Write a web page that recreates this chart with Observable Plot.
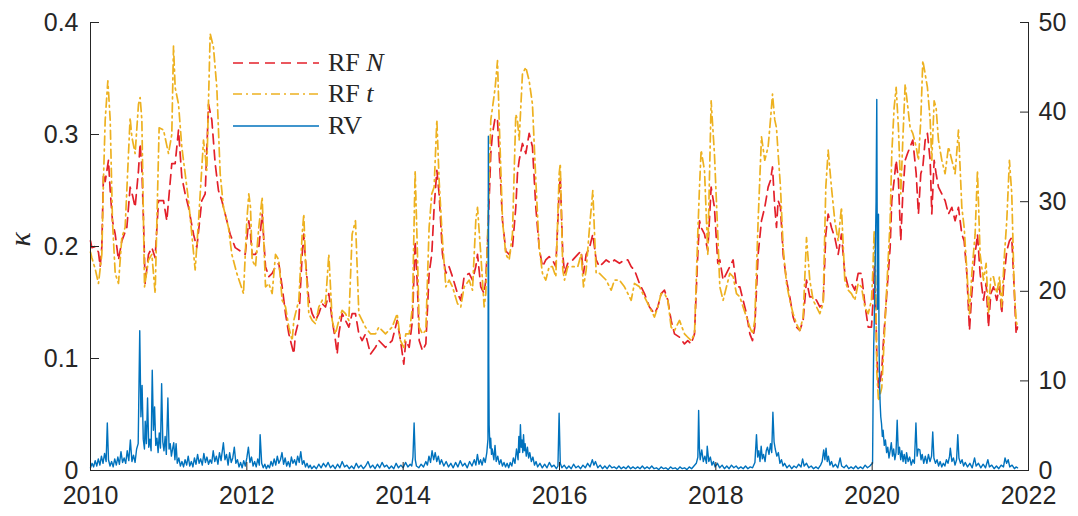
<!DOCTYPE html>
<html>
<head>
<meta charset="utf-8">
<script src="https://cdn.jsdelivr.net/npm/d3@7"></script>
<script src="https://cdn.jsdelivr.net/npm/@observablehq/plot@0.6"></script>
<style>
  body { margin: 0; background: #fff; }
  #chart { position: relative; width: 1078px; height: 516px; }
  #legend { position: absolute; left: 233px; top: 47px; font-family: "Liberation Serif", "Times New Roman", serif; font-size: 26px; color: #262626; }
  #legend .row { display: flex; align-items: center; height: 31.5px; }
  #legend svg { width: 86px; height: 10px; margin-right: 9px; }
</style>
</head>
<body>
<div id="chart"></div>
<script>
// Axis ranges and tick labels
const xDomain = [2010, 2022];
const xTicks = [2010, 2012, 2014, 2016, 2018, 2020, 2022];
const kappaTicks = [0, 0.1, 0.2, 0.3, 0.4];
const rvTicks = [0, 10, 20, 30, 40, 50];
const kappaMax = 0.4;
const rvMax = 50;

// Series labels
const seriesNames = ["RF N", "RF t", "RV"];

// RF with Normal innovations: [decimal year, kappa]
const rfN = [
  [2010.000,0.205],[2010.017,0.199],[2010.060,0.200],[2010.102,0.195],[2010.124,0.182],[2010.145,0.200],[2010.166,0.265],[2010.188,0.258],
  [2010.230,0.277],[2010.252,0.250],[2010.281,0.223],[2010.316,0.211],[2010.358,0.188],[2010.401,0.205],[2010.465,0.217],[2010.507,0.253],
  [2010.540,0.245],[2010.571,0.235],[2010.614,0.268],[2010.635,0.292],[2010.657,0.270],[2010.678,0.223],[2010.699,0.167],[2010.742,0.193],
  [2010.785,0.199],[2010.827,0.190],[2010.870,0.241],[2010.934,0.241],[2010.976,0.223],[2011.040,0.274],[2011.083,0.274],[2011.126,0.304],
  [2011.168,0.262],[2011.211,0.247],[2011.254,0.235],[2011.318,0.211],[2011.360,0.199],[2011.424,0.241],[2011.467,0.247],[2011.510,0.327],
  [2011.552,0.313],[2011.595,0.274],[2011.637,0.250],[2011.680,0.241],[2011.723,0.229],[2011.787,0.211],[2011.851,0.199],[2011.915,0.196],
  [2011.979,0.193],[2012.025,0.223],[2012.047,0.211],[2012.068,0.193],[2012.111,0.193],[2012.153,0.199],[2012.196,0.229],[2012.239,0.182],
  [2012.281,0.173],[2012.324,0.176],[2012.367,0.182],[2012.409,0.185],[2012.452,0.164],[2012.495,0.140],[2012.537,0.122],[2012.580,0.110],
  [2012.601,0.104],[2012.622,0.122],[2012.665,0.134],[2012.708,0.193],[2012.729,0.211],[2012.750,0.188],[2012.793,0.152],[2012.836,0.140],
  [2012.878,0.134],[2012.921,0.140],[2012.964,0.149],[2013.006,0.146],[2013.049,0.158],[2013.092,0.134],[2013.134,0.116],[2013.156,0.104],
  [2013.177,0.122],[2013.219,0.140],[2013.262,0.134],[2013.305,0.128],[2013.347,0.140],[2013.390,0.140],[2013.433,0.122],[2013.475,0.116],
  [2013.518,0.122],[2013.582,0.104],[2013.646,0.110],[2013.689,0.116],[2013.774,0.110],[2013.859,0.116],[2013.923,0.134],[2013.966,0.116],
  [2014.008,0.095],[2014.034,0.116],[2014.077,0.110],[2014.119,0.134],[2014.153,0.205],[2014.183,0.164],[2014.205,0.116],[2014.247,0.107],
  [2014.290,0.113],[2014.332,0.176],[2014.366,0.193],[2014.396,0.235],[2014.431,0.268],[2014.460,0.247],[2014.503,0.193],[2014.546,0.176],
  [2014.588,0.182],[2014.631,0.173],[2014.695,0.158],[2014.737,0.152],[2014.780,0.173],[2014.844,0.176],[2014.887,0.170],[2014.929,0.182],
  [2014.951,0.193],[2014.993,0.164],[2015.036,0.158],[2015.057,0.170],[2015.091,0.223],[2015.121,0.283],[2015.143,0.301],[2015.177,0.315],
  [2015.207,0.313],[2015.228,0.283],[2015.271,0.223],[2015.313,0.196],[2015.356,0.193],[2015.398,0.199],[2015.441,0.235],[2015.462,0.265],
  [2015.484,0.277],[2015.526,0.292],[2015.569,0.283],[2015.612,0.301],[2015.654,0.289],[2015.697,0.235],[2015.740,0.199],[2015.782,0.182],
  [2015.825,0.188],[2015.868,0.191],[2015.910,0.188],[2015.953,0.182],[2015.996,0.250],[2016.010,0.262],[2016.042,0.193],[2016.064,0.176],
  [2016.106,0.185],[2016.170,0.188],[2016.234,0.193],[2016.277,0.196],[2016.307,0.176],[2016.341,0.193],[2016.384,0.199],[2016.426,0.211],
  [2016.469,0.188],[2016.511,0.182],[2016.554,0.185],[2016.597,0.188],[2016.661,0.185],[2016.703,0.188],[2016.767,0.185],[2016.831,0.188],
  [2016.874,0.188],[2016.917,0.182],[2016.959,0.179],[2017.023,0.167],[2017.087,0.158],[2017.151,0.146],[2017.215,0.140],[2017.258,0.146],
  [2017.300,0.158],[2017.343,0.161],[2017.386,0.152],[2017.428,0.134],[2017.471,0.122],[2017.535,0.119],[2017.599,0.113],[2017.641,0.116],
  [2017.684,0.113],[2017.727,0.122],[2017.769,0.193],[2017.791,0.223],[2017.812,0.217],[2017.855,0.211],[2017.897,0.196],[2017.940,0.253],
  [2017.982,0.235],[2018.025,0.185],[2018.051,0.188],[2018.093,0.170],[2018.136,0.176],[2018.179,0.182],[2018.221,0.188],[2018.264,0.164],
  [2018.307,0.164],[2018.349,0.152],[2018.392,0.140],[2018.435,0.122],[2018.469,0.116],[2018.498,0.128],[2018.541,0.193],[2018.584,0.223],
  [2018.626,0.235],[2018.669,0.253],[2018.699,0.259],[2018.725,0.271],[2018.754,0.235],[2018.776,0.217],[2018.797,0.241],[2018.827,0.235],
  [2018.861,0.193],[2018.904,0.170],[2018.946,0.155],[2018.989,0.137],[2019.032,0.128],[2019.074,0.125],[2019.117,0.134],[2019.160,0.170],
  [2019.202,0.155],[2019.245,0.155],[2019.288,0.152],[2019.330,0.146],[2019.373,0.149],[2019.407,0.211],[2019.437,0.229],[2019.479,0.217],
  [2019.522,0.208],[2019.565,0.193],[2019.607,0.211],[2019.650,0.176],[2019.693,0.164],[2019.735,0.167],[2019.778,0.161],[2019.821,0.176],
  [2019.863,0.176],[2019.906,0.149],[2019.949,0.128],[2019.991,0.128],[2020.010,0.150],[2020.025,0.182],[2020.045,0.150],[2020.059,0.104],
  [2020.081,0.074],[2020.102,0.080],[2020.123,0.089],[2020.145,0.116],[2020.187,0.158],[2020.230,0.199],[2020.251,0.241],[2020.281,0.259],
  [2020.307,0.277],[2020.336,0.259],[2020.366,0.205],[2020.392,0.247],[2020.422,0.277],[2020.452,0.283],[2020.486,0.289],[2020.520,0.295],
  [2020.563,0.265],[2020.592,0.229],[2020.622,0.265],[2020.648,0.271],[2020.678,0.295],[2020.707,0.301],[2020.742,0.277],[2020.763,0.229],
  [2020.793,0.277],[2020.818,0.265],[2020.848,0.253],[2020.891,0.247],[2020.933,0.241],[2020.976,0.229],[2021.019,0.235],[2021.061,0.223],
  [2021.104,0.235],[2021.147,0.211],[2021.177,0.205],[2021.211,0.176],[2021.245,0.125],[2021.275,0.158],[2021.317,0.193],[2021.347,0.211],
  [2021.381,0.176],[2021.424,0.152],[2021.458,0.167],[2021.488,0.128],[2021.518,0.158],[2021.552,0.164],[2021.594,0.152],[2021.629,0.164],
  [2021.658,0.140],[2021.688,0.173],[2021.722,0.196],[2021.756,0.205],[2021.786,0.208],[2021.816,0.164],[2021.842,0.122],[2021.859,0.128]
];

// RF with Student-t innovations: [decimal year, kappa]
const rfT = [
  [2010.000,0.195],[2010.017,0.190],[2010.060,0.180],[2010.102,0.167],[2010.145,0.193],[2010.166,0.260],[2010.188,0.313],[2010.222,0.348],
  [2010.252,0.313],[2010.281,0.223],[2010.316,0.176],[2010.358,0.167],[2010.401,0.208],[2010.443,0.217],[2010.507,0.315],[2010.529,0.298],
  [2010.571,0.283],[2010.614,0.327],[2010.635,0.333],[2010.657,0.313],[2010.691,0.164],[2010.742,0.188],[2010.785,0.193],[2010.827,0.158],
  [2010.878,0.306],[2010.934,0.304],[2010.998,0.283],[2011.040,0.300],[2011.062,0.379],[2011.083,0.342],[2011.126,0.327],[2011.168,0.289],
  [2011.211,0.265],[2011.254,0.241],[2011.296,0.211],[2011.339,0.179],[2011.382,0.223],[2011.446,0.295],[2011.488,0.268],[2011.531,0.390],
  [2011.573,0.378],[2011.616,0.342],[2011.659,0.265],[2011.701,0.235],[2011.765,0.217],[2011.808,0.193],[2011.872,0.176],[2011.957,0.158],
  [2012.000,0.223],[2012.025,0.247],[2012.047,0.235],[2012.068,0.188],[2012.111,0.182],[2012.153,0.217],[2012.196,0.244],[2012.239,0.164],
  [2012.281,0.167],[2012.324,0.158],[2012.367,0.193],[2012.409,0.188],[2012.452,0.152],[2012.495,0.146],[2012.537,0.128],[2012.580,0.116],
  [2012.601,0.134],[2012.622,0.140],[2012.665,0.152],[2012.708,0.211],[2012.729,0.229],[2012.750,0.188],[2012.793,0.140],[2012.836,0.134],
  [2012.878,0.131],[2012.921,0.146],[2012.964,0.152],[2013.006,0.149],[2013.049,0.193],[2013.092,0.134],[2013.134,0.122],[2013.177,0.134],
  [2013.219,0.143],[2013.262,0.140],[2013.305,0.134],[2013.347,0.211],[2013.390,0.223],[2013.433,0.140],[2013.475,0.134],[2013.518,0.128],
  [2013.582,0.122],[2013.646,0.122],[2013.689,0.128],[2013.774,0.122],[2013.859,0.128],[2013.923,0.140],[2013.966,0.116],[2014.008,0.110],
  [2014.034,0.122],[2014.077,0.122],[2014.119,0.146],[2014.153,0.268],[2014.183,0.193],[2014.205,0.128],[2014.247,0.122],[2014.290,0.125],
  [2014.332,0.217],[2014.366,0.247],[2014.396,0.253],[2014.431,0.313],[2014.460,0.259],[2014.503,0.205],[2014.546,0.164],[2014.588,0.170],
  [2014.631,0.164],[2014.695,0.149],[2014.737,0.146],[2014.780,0.164],[2014.844,0.170],[2014.887,0.161],[2014.929,0.223],[2014.951,0.235],
  [2014.993,0.193],[2015.036,0.146],[2015.057,0.158],[2015.091,0.235],[2015.121,0.313],[2015.143,0.324],[2015.177,0.342],[2015.207,0.366],
  [2015.228,0.313],[2015.271,0.223],[2015.313,0.193],[2015.356,0.188],[2015.398,0.211],[2015.441,0.318],[2015.462,0.313],[2015.484,0.295],
  [2015.526,0.354],[2015.569,0.360],[2015.612,0.348],[2015.654,0.327],[2015.697,0.259],[2015.740,0.199],[2015.782,0.176],[2015.825,0.170],
  [2015.868,0.182],[2015.910,0.182],[2015.953,0.173],[2015.996,0.265],[2016.010,0.274],[2016.042,0.179],[2016.064,0.170],[2016.106,0.182],
  [2016.170,0.182],[2016.234,0.182],[2016.277,0.193],[2016.307,0.164],[2016.341,0.179],[2016.384,0.217],[2016.426,0.250],[2016.469,0.176],
  [2016.511,0.176],[2016.554,0.173],[2016.597,0.170],[2016.661,0.161],[2016.703,0.170],[2016.767,0.170],[2016.831,0.164],[2016.874,0.158],
  [2016.917,0.152],[2016.959,0.167],[2017.023,0.164],[2017.087,0.155],[2017.151,0.146],[2017.215,0.137],[2017.258,0.146],[2017.300,0.158],
  [2017.343,0.158],[2017.386,0.152],[2017.428,0.128],[2017.471,0.125],[2017.535,0.134],[2017.599,0.122],[2017.641,0.119],[2017.684,0.116],
  [2017.727,0.122],[2017.769,0.211],[2017.791,0.253],[2017.812,0.286],[2017.855,0.268],[2017.897,0.193],[2017.940,0.330],[2017.982,0.283],
  [2018.025,0.211],[2018.051,0.164],[2018.093,0.152],[2018.136,0.164],[2018.179,0.176],[2018.221,0.173],[2018.264,0.158],[2018.307,0.155],
  [2018.349,0.146],[2018.392,0.137],[2018.435,0.128],[2018.469,0.122],[2018.498,0.134],[2018.541,0.223],[2018.584,0.298],[2018.626,0.277],
  [2018.669,0.289],[2018.699,0.313],[2018.725,0.336],[2018.754,0.313],[2018.776,0.306],[2018.797,0.283],[2018.827,0.253],[2018.861,0.199],
  [2018.904,0.167],[2018.946,0.152],[2018.989,0.140],[2019.032,0.131],[2019.074,0.125],[2019.117,0.137],[2019.160,0.208],[2019.202,0.170],
  [2019.245,0.152],[2019.288,0.146],[2019.330,0.140],[2019.373,0.149],[2019.407,0.253],[2019.437,0.286],[2019.479,0.253],[2019.522,0.223],
  [2019.565,0.205],[2019.607,0.235],[2019.650,0.170],[2019.693,0.161],[2019.735,0.158],[2019.778,0.152],[2019.821,0.167],[2019.863,0.164],
  [2019.906,0.146],[2019.949,0.140],[2019.991,0.152],[2020.010,0.180],[2020.025,0.214],[2020.045,0.170],[2020.059,0.089],[2020.081,0.062],
  [2020.102,0.068],[2020.123,0.074],[2020.145,0.104],[2020.187,0.164],[2020.230,0.223],[2020.251,0.283],[2020.281,0.324],[2020.307,0.342],
  [2020.336,0.306],[2020.366,0.247],[2020.392,0.295],[2020.422,0.345],[2020.452,0.327],[2020.486,0.306],[2020.520,0.301],[2020.563,0.289],
  [2020.592,0.277],[2020.622,0.313],[2020.648,0.366],[2020.678,0.354],[2020.707,0.342],[2020.742,0.313],[2020.763,0.277],[2020.793,0.330],
  [2020.818,0.324],[2020.848,0.295],[2020.891,0.277],[2020.933,0.265],[2020.976,0.289],[2021.019,0.277],[2021.061,0.265],[2021.104,0.304],
  [2021.147,0.235],[2021.177,0.217],[2021.211,0.179],[2021.245,0.140],[2021.275,0.176],[2021.317,0.211],[2021.347,0.268],[2021.381,0.193],
  [2021.424,0.170],[2021.458,0.185],[2021.488,0.140],[2021.518,0.173],[2021.552,0.173],[2021.594,0.158],[2021.629,0.173],[2021.658,0.146],
  [2021.688,0.188],[2021.722,0.223],[2021.756,0.277],[2021.786,0.247],[2021.816,0.164],[2021.842,0.134],[2021.859,0.128]
];

// Realised volatility (right axis): [decimal year, RV]
const rv = [
  [2010.00,0.3],[2010.02,0.8],[2010.04,0.4],[2010.06,1.1],[2010.08,0.5],[2010.10,1.3],[2010.12,0.6],[2010.14,1.6],[2010.16,0.8],[2010.18,1.9],
  [2010.20,1.0],[2010.215,5.3],[2010.23,1.2],[2010.25,0.5],[2010.27,1.0],[2010.29,0.4],[2010.31,1.3],[2010.33,0.6],[2010.35,1.5],[2010.37,0.7],
  [2010.39,2.1],[2010.41,0.9],[2010.43,1.4],[2010.45,0.8],[2010.47,2.2],[2010.49,1.1],[2010.51,3.4],[2010.53,1.0],[2010.55,1.7],[2010.57,0.9],
  [2010.59,2.4],[2010.61,3.0],[2010.63,15.6],[2010.645,6.0],[2010.66,9.5],[2010.675,3.5],[2010.69,2.4],[2010.70,5.5],[2010.715,3.0],[2010.73,8.1],
  [2010.745,2.6],[2010.76,3.5],[2010.775,2.2],[2010.79,11.2],[2010.805,4.5],[2010.82,7.1],[2010.835,2.8],[2010.85,3.6],[2010.865,2.0],[2010.88,4.2],
  [2010.895,2.5],[2010.91,9.7],[2010.925,3.2],[2010.94,2.2],[2010.955,3.8],[2010.97,1.8],[2010.99,8.1],[2011.005,2.4],[2011.02,3.0],[2011.035,1.6],
  [2011.05,2.4],[2011.065,3.1],[2011.08,1.2],[2011.095,3.0],[2011.11,0.8],[2011.13,1.4],[2011.15,0.5],[2011.17,1.0],[2011.19,0.4],[2011.21,1.2],
  [2011.23,0.6],[2011.25,1.6],[2011.27,0.5],[2011.29,1.0],[2011.31,0.4],[2011.33,1.4],[2011.35,0.7],[2011.37,1.8],[2011.39,0.8],[2011.41,1.3],
  [2011.43,0.6],[2011.45,1.9],[2011.47,0.9],[2011.49,1.5],[2011.51,0.7],[2011.53,1.2],[2011.55,0.8],[2011.57,2.2],[2011.59,1.0],[2011.61,1.6],
  [2011.63,0.7],[2011.65,2.0],[2011.67,1.1],[2011.70,3.1],[2011.72,1.2],[2011.74,1.8],[2011.76,0.6],[2011.78,2.0],[2011.80,0.9],[2011.82,1.4],
  [2011.84,2.6],[2011.86,0.8],[2011.88,1.2],[2011.90,0.4],[2011.92,0.9],[2011.94,0.3],[2011.96,1.1],[2011.98,0.5],[2012.00,1.4],[2012.02,2.6],
  [2012.04,0.9],[2012.06,1.5],[2012.08,0.5],[2012.10,1.0],[2012.12,0.4],[2012.14,1.3],[2012.16,0.6],[2012.17,4.0],[2012.19,0.8],[2012.21,0.3],
  [2012.23,0.7],[2012.25,0.2],[2012.27,0.6],[2012.29,0.3],[2012.31,1.0],[2012.33,0.5],[2012.35,1.3],[2012.37,0.6],[2012.39,1.6],[2012.41,0.8],
  [2012.43,1.2],[2012.45,2.0],[2012.47,0.7],[2012.49,1.4],[2012.51,0.5],[2012.53,1.0],[2012.55,0.4],[2012.57,1.5],[2012.59,0.8],[2012.61,1.2],
  [2012.63,0.6],[2012.65,1.6],[2012.67,0.9],[2012.69,2.1],[2012.71,0.7],[2012.73,1.1],[2012.75,0.4],[2012.77,0.8],[2012.79,0.3],[2012.81,0.6],
  [2012.83,0.2],[2012.86,0.5],[2012.89,0.2],[2012.92,0.7],[2012.95,0.3],[2012.98,0.8],[2013.01,0.4],[2013.04,0.9],[2013.07,0.3],[2013.10,0.6],
  [2013.13,0.2],[2013.16,0.7],[2013.19,0.3],[2013.22,1.0],[2013.25,0.4],[2013.28,0.6],[2013.31,0.2],[2013.34,0.5],[2013.37,0.2],[2013.40,0.8],
  [2013.43,0.3],[2013.46,0.6],[2013.49,0.2],[2013.52,0.5],[2013.55,1.0],[2013.58,0.3],[2013.61,0.6],[2013.64,0.2],[2013.67,0.7],[2013.70,0.3],
  [2013.73,0.9],[2013.76,0.4],[2013.79,0.6],[2013.82,0.2],[2013.85,0.5],[2013.88,0.2],[2013.91,0.8],[2013.94,0.3],[2013.97,0.6],[2014.00,0.3],
  [2014.03,0.9],[2014.06,0.4],[2014.09,0.7],[2014.11,0.5],[2014.125,1.5],[2014.14,5.3],[2014.155,1.2],[2014.17,0.5],[2014.20,0.3],[2014.23,0.7],
  [2014.26,0.4],[2014.29,1.0],[2014.31,0.6],[2014.33,1.6],[2014.35,0.9],[2014.37,2.2],[2014.39,1.2],[2014.41,2.0],[2014.43,1.0],[2014.45,1.6],
  [2014.47,0.7],[2014.49,1.2],[2014.52,0.5],[2014.55,1.0],[2014.58,0.4],[2014.61,0.8],[2014.64,0.3],[2014.67,0.9],[2014.70,0.4],[2014.73,1.1],
  [2014.76,0.5],[2014.79,0.8],[2014.82,0.3],[2014.85,1.0],[2014.88,0.5],[2014.91,1.2],[2014.93,0.6],[2014.95,1.8],[2014.97,0.7],[2014.99,1.2],
  [2015.01,0.6],[2015.03,1.4],[2015.05,0.9],[2015.07,2.0],[2015.085,3.5],[2015.09,37.3],[2015.095,12.0],[2015.10,5.1],[2015.11,2.5],[2015.12,3.6],
  [2015.13,1.8],[2015.14,2.4],[2015.16,1.2],[2015.175,2.8],[2015.19,1.0],[2015.21,1.6],[2015.23,0.7],[2015.25,1.2],[2015.27,0.5],[2015.29,0.9],
  [2015.31,0.4],[2015.33,0.8],[2015.35,0.3],[2015.37,0.9],[2015.39,0.5],[2015.41,1.4],[2015.43,0.8],[2015.45,2.4],[2015.47,1.2],[2015.48,3.8],
  [2015.49,2.0],[2015.50,5.1],[2015.51,2.6],[2015.52,3.4],[2015.53,2.0],[2015.54,4.0],[2015.55,2.2],[2015.56,3.0],[2015.575,1.6],[2015.59,2.6],
  [2015.605,1.4],[2015.62,2.0],[2015.64,1.0],[2015.66,1.5],[2015.68,0.6],[2015.70,1.0],[2015.72,0.4],[2015.75,0.8],[2015.78,0.3],[2015.81,0.7],
  [2015.84,0.3],[2015.87,0.9],[2015.90,0.4],[2015.93,0.6],[2015.96,0.2],[2015.98,0.5],[2015.995,6.4],[2016.01,0.8],[2016.03,0.3],[2016.06,0.6],
  [2016.09,0.2],[2016.12,0.5],[2016.15,0.2],[2016.18,0.7],[2016.21,0.3],[2016.24,0.5],[2016.27,0.2],[2016.30,0.6],[2016.33,0.3],[2016.36,0.8],
  [2016.39,0.4],[2016.42,1.2],[2016.44,0.6],[2016.46,1.0],[2016.49,0.3],[2016.52,0.6],[2016.55,0.2],[2016.58,0.5],[2016.61,0.2],[2016.64,0.6],
  [2016.67,0.3],[2016.70,0.4],[2016.73,0.2],[2016.76,0.5],[2016.79,0.2],[2016.82,0.4],[2016.85,0.2],[2016.88,0.5],[2016.91,0.2],[2016.94,0.4],
  [2016.97,0.2],[2017.00,0.4],[2017.03,0.2],[2017.06,0.5],[2017.09,0.2],[2017.12,0.4],[2017.15,0.2],[2017.18,0.5],[2017.21,0.2],[2017.24,0.3],
  [2017.27,0.1],[2017.30,0.4],[2017.33,0.2],[2017.36,0.3],[2017.39,0.1],[2017.42,0.4],[2017.45,0.2],[2017.48,0.3],[2017.51,0.1],[2017.54,0.4],
  [2017.57,0.2],[2017.60,0.3],[2017.63,0.1],[2017.66,0.4],[2017.69,0.2],[2017.72,0.5],[2017.75,0.8],[2017.77,1.5],[2017.78,6.7],[2017.79,2.5],
  [2017.80,1.2],[2017.82,2.3],[2017.84,1.0],[2017.86,1.6],[2017.88,0.8],[2017.89,2.7],[2017.91,1.0],[2017.93,1.5],[2017.95,0.6],[2017.97,1.0],
  [2017.99,0.4],[2018.02,0.8],[2018.05,0.3],[2018.08,0.6],[2018.11,0.2],[2018.14,0.5],[2018.17,0.2],[2018.20,0.6],[2018.23,0.3],[2018.26,0.5],
  [2018.29,0.2],[2018.32,0.4],[2018.35,0.2],[2018.38,0.5],[2018.41,0.2],[2018.44,0.4],[2018.47,0.3],[2018.50,0.9],[2018.52,4.0],[2018.535,1.5],
  [2018.55,2.2],[2018.565,1.0],[2018.58,2.7],[2018.595,1.3],[2018.61,1.8],[2018.63,1.0],[2018.645,2.2],[2018.66,2.6],[2018.68,1.8],[2018.70,3.0],
  [2018.715,2.0],[2018.73,6.5],[2018.745,3.2],[2018.76,2.4],[2018.78,1.6],[2018.80,2.0],[2018.82,0.8],[2018.84,1.2],[2018.86,0.5],[2018.88,0.8],
  [2018.91,0.3],[2018.94,0.6],[2018.97,0.2],[2019.00,0.5],[2019.03,0.3],[2019.06,0.7],[2019.09,0.4],[2019.11,1.3],[2019.13,0.5],[2019.16,0.8],
  [2019.19,0.3],[2019.22,0.5],[2019.25,0.2],[2019.28,0.4],[2019.31,0.2],[2019.34,0.6],[2019.36,1.0],[2019.38,2.3],[2019.395,1.2],[2019.41,2.5],
  [2019.425,1.0],[2019.44,1.6],[2019.46,0.6],[2019.48,1.0],[2019.50,0.4],[2019.53,0.7],[2019.56,0.3],[2019.59,1.4],[2019.61,0.5],[2019.64,0.3],
  [2019.67,0.6],[2019.70,0.2],[2019.73,0.4],[2019.76,0.2],[2019.79,0.5],[2019.82,0.2],[2019.85,0.4],[2019.88,0.2],[2019.91,0.6],[2019.94,0.3],
  [2019.97,0.5],[2019.99,0.7],[2020.005,0.8],[2020.012,8.0],[2020.02,14.0],[2020.03,18.0],[2020.04,24.0],[2020.05,30.0],[2020.059,41.4],[2020.068,18.0],
  [2020.075,22.0],[2020.081,28.6],[2020.088,14.0],[2020.095,9.5],[2020.102,7.5],[2020.11,6.0],[2020.12,5.2],[2020.13,3.8],[2020.14,4.5],[2020.155,2.8],
  [2020.17,3.4],[2020.185,2.0],[2020.20,2.6],[2020.215,1.4],[2020.23,2.2],[2020.245,3.1],[2020.26,1.6],[2020.275,2.4],[2020.29,1.2],[2020.305,2.0],
  [2020.32,5.6],[2020.335,1.8],[2020.35,2.6],[2020.365,1.2],[2020.38,2.2],[2020.395,1.0],[2020.41,1.8],[2020.43,0.8],[2020.44,2.0],[2020.46,1.0],
  [2020.48,1.5],[2020.50,0.6],[2020.52,1.2],[2020.54,0.8],[2020.56,5.3],[2020.575,1.6],[2020.59,2.4],[2020.61,2.3],[2020.625,1.2],[2020.64,1.8],
  [2020.66,0.8],[2020.68,1.6],[2020.70,0.8],[2020.72,1.8],[2020.74,1.0],[2020.76,1.6],[2020.775,4.3],[2020.79,1.4],[2020.81,0.8],[2020.83,1.2],
  [2020.85,0.5],[2020.87,1.0],[2020.89,0.4],[2020.91,0.8],[2020.93,0.5],[2020.95,1.2],[2020.97,0.8],[2020.99,1.6],[2021.00,2.5],[2021.02,1.0],
  [2021.04,1.4],[2021.06,0.6],[2021.08,1.2],[2021.095,4.0],[2021.11,1.4],[2021.13,0.8],[2021.15,1.2],[2021.17,0.5],[2021.19,0.9],[2021.22,0.4],
  [2021.25,0.8],[2021.28,0.3],[2021.31,1.4],[2021.33,0.5],[2021.36,0.8],[2021.39,0.3],[2021.42,0.7],[2021.45,0.3],[2021.48,1.2],[2021.50,0.4],
  [2021.53,0.6],[2021.56,0.2],[2021.59,0.5],[2021.62,0.2],[2021.65,0.6],[2021.68,0.4],[2021.70,1.4],[2021.72,0.8],[2021.74,1.2],[2021.76,0.4],
  [2021.79,0.6],[2021.82,0.2],[2021.84,0.4],[2021.86,0.3]
];

// Line styles
const colors = {rfN: "#e3202a", rfT: "#edb120", rv: "#0072bd"};
const dashes = {rfN: "10,6", rfT: "9,4,2,4", rv: null};
const ink = "#262626";

// RV is drawn on the kappa scale and relabelled on the right axis
const rvScale = kappaMax / rvMax;

const fmtKappa = d => d === 0 ? "0" : d3.format(".1f")(d);

const chart = Plot.plot({
  width: 1078,
  height: 516,
  marginLeft: 90,
  marginRight: 50,
  marginTop: 22,
  marginBottom: 46,
  style: {fontFamily: "'Liberation Sans', Arial, Helvetica, sans-serif", fontSize: "25px", color: ink, background: "#fff", overflow: "visible"},
  x: {domain: xDomain},
  y: {domain: [0, kappaMax]},
  marks: [
    Plot.line(rfN, {x: d => d[0], y: d => d[1], stroke: colors.rfN, strokeWidth: 1.7, strokeDasharray: dashes.rfN}),
    Plot.line(rfT, {x: d => d[0], y: d => d[1], stroke: colors.rfT, strokeWidth: 1.7, strokeDasharray: dashes.rfT}),
    Plot.line(rv, {x: d => d[0], y: d => d[1] * rvScale, stroke: colors.rv, strokeWidth: 1.4}),
    Plot.ruleX([xDomain[0], xDomain[1]], {stroke: ink, strokeWidth: 1}),
    Plot.ruleY([0], {stroke: ink, strokeWidth: 1}),
    Plot.axisX({ticks: xTicks, tickFormat: d3.format("d"), tickSize: -8, tickPadding: 24, label: null, stroke: ink, fill: ink}),
    Plot.axisY({anchor: "left", ticks: kappaTicks, tickFormat: fmtKappa, tickSize: -9, tickPadding: 21, label: null, stroke: ink, fill: ink}),
    Plot.axisY({anchor: "right", ticks: rvTicks.map(v => v * rvScale), tickFormat: d => d3.format("d")(Math.round(d / rvScale)), tickSize: -9, tickPadding: 19, label: null, stroke: ink, fill: ink}),
    Plot.text(["κ"], {frameAnchor: "left", dx: -70, rotate: -90, fontFamily: "'Liberation Serif', 'DejaVu Serif', serif", fontStyle: "italic", fontSize: 30, fill: ink})
  ]
});

const root = document.getElementById("chart");
root.appendChild(chart);

// Legend
const legend = document.createElement("div");
legend.id = "legend";
const keys = ["rfN", "rfT", "rv"];
keys.forEach((k, i) => {
  const row = document.createElement("div");
  row.className = "row";
  const sw = d3.create("svg").attr("viewBox", "0 0 86 10");
  sw.append("line").attr("x1", 0).attr("x2", 86).attr("y1", 5).attr("y2", 5)
    .attr("stroke", colors[k]).attr("stroke-width", 1.7)
    .attr("stroke-dasharray", dashes[k]);
  row.appendChild(sw.node());
  const label = document.createElement("span");
  const [head, tail] = seriesNames[i].split(" ");
  label.append(head);
  if (tail) {
    const it = document.createElement("i");
    it.textContent = tail;
    label.append(" ", it);
  }
  row.appendChild(label);
  legend.appendChild(row);
});
root.appendChild(legend);
</script>
</body>
</html>
